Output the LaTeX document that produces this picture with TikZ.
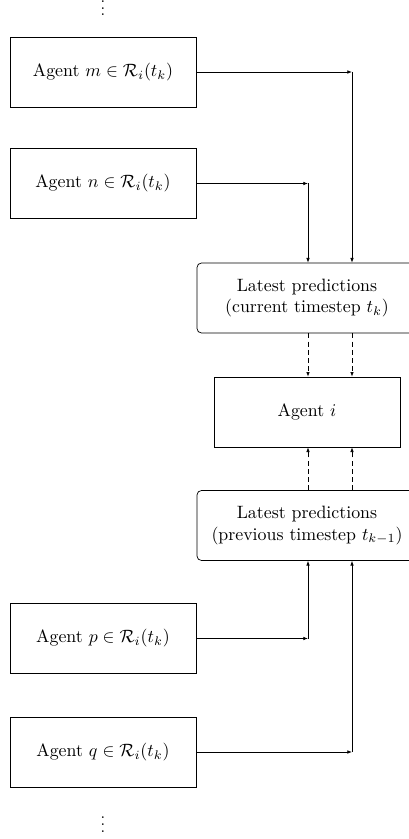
\documentclass[tikz,border=0pt]{standalone}
\usepackage{amsmath,amssymb}
\usetikzlibrary{arrows.meta}
\begin{document}
\begin{tikzpicture}[x=0.56pt,y=-0.56pt,
  agentbox/.style={draw,rectangle,minimum width={186*0.56pt},minimum height={70*0.56pt},inner sep=0pt,align=center},
  predbox/.style={draw,rectangle,rounded corners=2.5pt,minimum width={220*0.56pt},minimum height={70*0.56pt},inner sep=0pt,align=center},
  dotsnode/.style={inner sep=0pt,anchor=base,scale=0.92},
  link/.style={-{Latex[length=2.6pt,width=2pt]}},
  dlink/.style={-{Latex[length=2.6pt,width=2pt]},dash pattern=on 2.8pt off 1.8pt}]
\useasboundingbox (0,0) rectangle (409,839);
\clip (0,0) rectangle (409,839);
\node[dotsnode] (dtop) at (103,16) {$\vdots$};
\node[agentbox] (m) at (103,72) {Agent $m \in \mathcal{R}_i(t_k)$};
\node[agentbox] (n) at (103,183.5) {Agent $n \in \mathcal{R}_i(t_k)$};
\node[predbox] (cur) at (307,298) {Latest predictions\\(current timestep $t_k$)};
\node[agentbox] (ai) at (307,412) {Agent $i$};
\node[predbox] (prev) at (307,525.5) {Latest predictions\\(previous timestep $t_{k-1}$)};
\node[agentbox] (p) at (103,638.5) {Agent $p \in \mathcal{R}_i(t_k)$};
\node[agentbox] (q) at (103,752) {Agent $q \in \mathcal{R}_i(t_k)$};
\node[dotsnode] (dbot) at (103,832) {$\vdots$};
\coordinate (cm) at (352,72);
\coordinate (cn) at (308,183.5);
\coordinate (cp) at (308,638.5);
\coordinate (cq) at (352,752);
\draw[link] (m.east) -- (cm);
\draw[link] (cm) -- (cm |- cur.north);
\draw[link] (n.east) -- (cn);
\draw[link] (cn) -- (cn |- cur.north);
\draw[link] (p.east) -- (cp);
\draw[link] (cp) -- (cp |- prev.south);
\draw[link] (q.east) -- (cq);
\draw[link] (cq) -- (cq |- prev.south);
\draw[dlink] (cn |- cur.south) -- (cn |- ai.north);
\draw[dlink] (cm |- cur.south) -- (cm |- ai.north);
\draw[dlink] (cn |- prev.north) -- (cn |- ai.south);
\draw[dlink] (cm |- prev.north) -- (cm |- ai.south);
\end{tikzpicture}
\end{document}
